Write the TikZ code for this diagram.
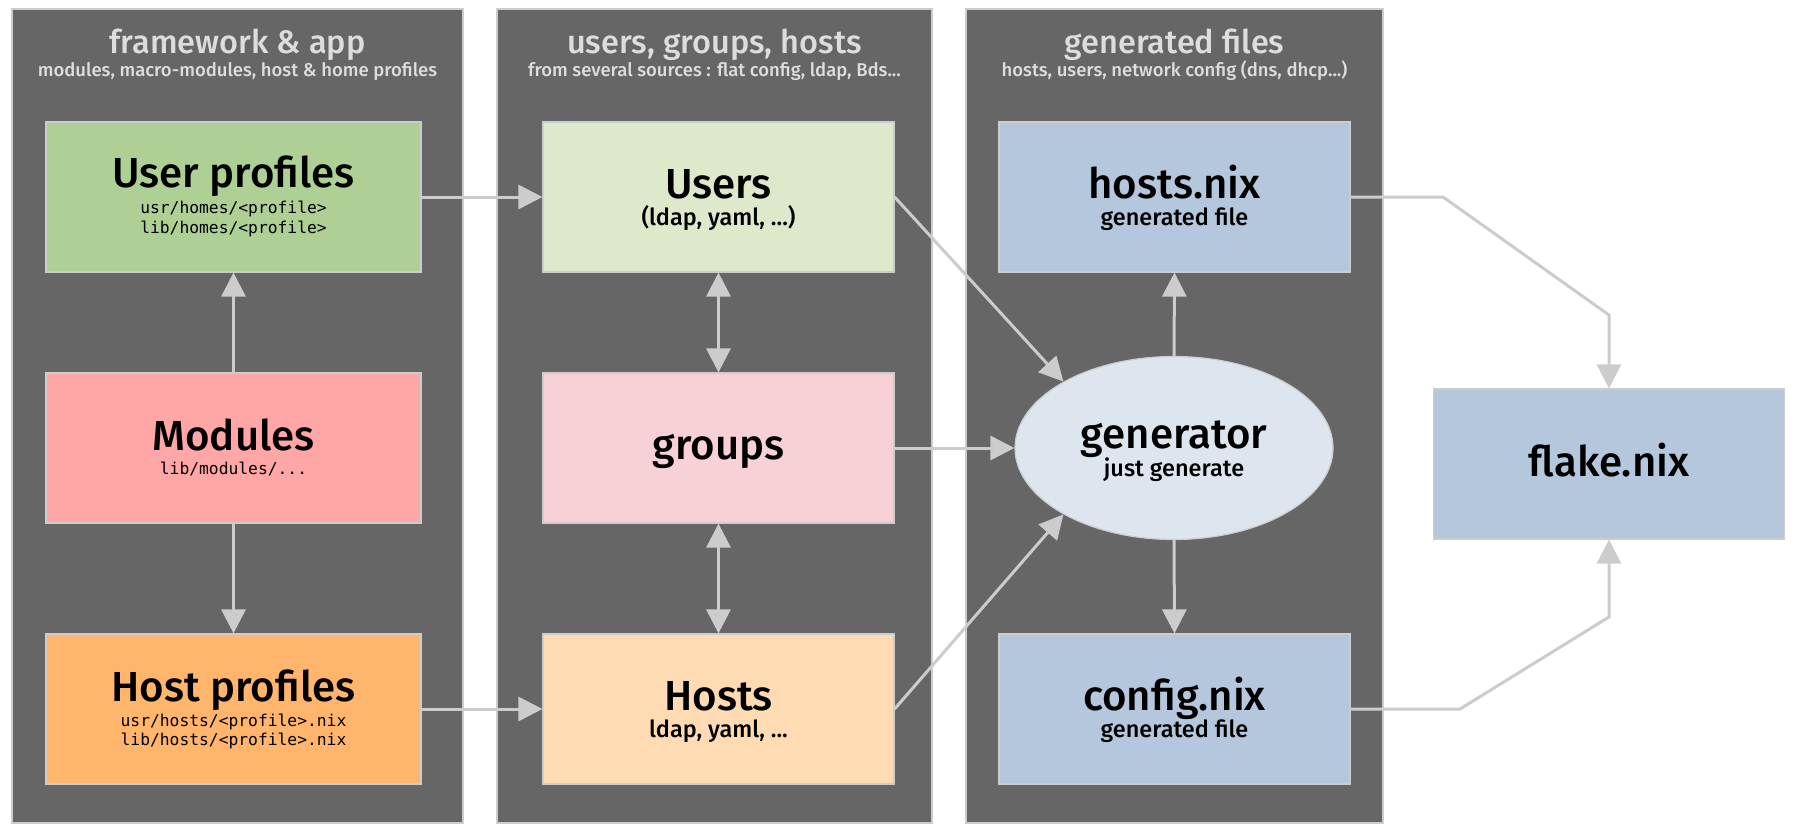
\documentclass[tikz,border=0pt]{standalone}
\usepackage{fontspec}
\setmainfont{Fira Sans}[UprightFont={* Medium}]
\newfontfamily\monof{DejaVu Sans Mono}
\usetikzlibrary{arrows.meta,shapes.geometric}
\definecolor{panelgray}{HTML}{666666}
\definecolor{lineg}{HTML}{CCCCCC}
\definecolor{titleg}{HTML}{DDDDDD}
\definecolor{cUP}{HTML}{AED094}
\definecolor{cMod}{HTML}{FFA6A6}
\definecolor{cHP}{HTML}{FFB56B}
\definecolor{cUsers}{HTML}{DEE8CB}
\definecolor{cGroups}{HTML}{F8D1D7}
\definecolor{cHosts}{HTML}{FFDBB3}
\definecolor{cNix}{HTML}{B5C7DD}
\definecolor{cGen}{HTML}{DDE5EF}
\begin{document}
\begin{tikzpicture}[x=1pt,y=-1pt,
 panel/.style={fill=panelgray,draw=lineg,line width=1.5pt},
 box/.style={draw=lineg,line width=1.2pt,inner sep=0pt,minimum height=150pt},
 wbox/.style={box,minimum width=375pt},
 nbox/.style={box,minimum width=351pt},
 genshape/.style={ellipse,draw=lineg,line width=1.2pt,fill=cGen,inner sep=0pt,minimum width=318pt,minimum height=183pt},
 bigt/.style={anchor=base,inner sep=0pt,font=\fontsize{42}{42}\selectfont},
 subt/.style={anchor=base,inner sep=0pt,font=\fontsize{23.5}{24}\selectfont},
 monot/.style={anchor=base,inner sep=0pt,font=\monof\fontsize{16.3}{16.3}\selectfont},
 ttl/.style={anchor=base,inner sep=0pt,text=titleg,font=\fontsize{32.5}{33}\selectfont},
 sttl/.style={anchor=base,inner sep=0pt,text=titleg,font=\fontsize{18.5}{19}\selectfont},
 conn/.style={draw=lineg,line width=3pt},
 arr/.style={conn,-{Triangle[length=24pt,width=24pt]}},
 darr/.style={conn,{Triangle[length=24pt,width=24pt]}-{Triangle[length=24pt,width=24pt]}},
]
\fill[white] (0,0) rectangle (1800,836);
\useasboundingbox (0,0) rectangle (1800,836);

% panels
\draw[panel] (12,9) rectangle (463,823);
\draw[panel] (497,9) rectangle (932,823);
\draw[panel] (966,9) rectangle (1383,823);

\node[ttl] (t1) at (237.5,53) {framework \& app};
\node[sttl] (s1) at (237.5,76) {modules, macro-modules, host \& home profiles};
\node[ttl] (t2) at (714.5,53) {users, groups, hosts};
\node[sttl] (s2) at (714.5,76) {from several sources : flat config, ldap, Bds...};
\node[ttl] (t3) at (1174.5,53) {generated files};
\node[sttl] (s3) at (1174.5,76) {hosts, users, network config (dns, dhcp...)};

% boxes
\node[wbox,fill=cUP] (up) at (233.5,197) {};
\node[wbox,fill=cMod] (mod) at (233.5,448) {};
\node[wbox,fill=cHP] (hp) at (233.5,709) {};
\node[nbox,fill=cUsers] (users) at (718.5,197) {};
\node[nbox,fill=cGroups] (groups) at (718.5,448) {};
\node[nbox,fill=cHosts] (hosts) at (718.5,709) {};
\node[nbox,fill=cNix] (hnix) at (1174.5,197) {};
\node[genshape] (gen) at (1174,448) {};
\node[nbox,fill=cNix] (cnix) at (1174.5,709) {};
\node[nbox,fill=cNix] (flake) at (1609,464) {};

% labels
\node[bigt] (upL) at ([yshift=10pt]up.center) {User profiles};
\node[monot] (upM1) at ([yshift=-16pt]up.center) {usr/homes/<profile>};
\node[monot] (upM2) at ([yshift=-36pt]up.center) {lib/homes/<profile>};
\node[bigt] (modL) at ([yshift=-2pt]mod.center) {Modules};
\node[monot] (modM) at ([yshift=-26pt]mod.center) {lib/modules/...};
\node[bigt] (hpL) at ([yshift=8pt]hp.center) {Host profiles};
\node[monot] (hpM1) at ([yshift=-17pt]hp.center) {usr/hosts/<profile>.nix};
\node[monot] (hpM2) at ([yshift=-36pt]hp.center) {lib/hosts/<profile>.nix};
\node[bigt] (usersL) at ([yshift=-1pt]users.center) {Users};
\node[subt] (usersS) at ([yshift=-28pt]users.center) {(ldap, yaml, ...)};
\node[bigt] (groupsL) at ([yshift=-11pt]groups.center) {groups};
\node[bigt] (hostsL) at ([yshift=-1pt]hosts.center) {Hosts};
\node[subt] (hostsS) at ([yshift=-28pt]hosts.center) {ldap, yaml, ...};
\node[bigt] (hnixL) at ([yshift=-1pt]hnix.center) {hosts.nix};
\node[subt] (hnixS) at ([yshift=-28pt]hnix.center) {generated file};
\node[bigt] (genL) at ([yshift=0pt]gen.center) {generator};
\node[subt] (genS) at ([yshift=-28pt]gen.center) {just generate};
\node[bigt] (cnixL) at ([yshift=-1pt]cnix.center) {config.nix};
\node[subt] (cnixS) at ([yshift=-28pt]cnix.center) {generated file};
\node[bigt] (flakeL) at ([yshift=-12pt]flake.center) {flake.nix};

% connectors
\draw[arr] (up.east) -- (users.west);
\draw[arr] (hp.east) -- (hosts.west);
\draw[arr] (mod.north) -- (up.south);
\draw[arr] (mod.south) -- (hp.north);
\draw[darr] (users.south) -- (groups.north);
\draw[darr] (groups.south) -- (hosts.north);
\draw[arr] (users.east) -- (gen.149);
\draw[arr] (groups.east) -- (gen.west);
\draw[arr] (hosts.east) -- (gen.211);
\draw[arr] (gen.north) -- (hnix.south);
\draw[arr] (gen.south) -- (cnix.north);
\coordinate (b1) at (1443,197);
\coordinate (b2) at (1609,315);
\coordinate (b3) at (1460,709);
\coordinate (b4) at (1609,617);
\draw[arr] (hnix.east) -- (b1) -- (b2) -- (flake.north);
\draw[arr] (cnix.east) -- (b3) -- (b4) -- (flake.south);
\end{tikzpicture}
\end{document}
